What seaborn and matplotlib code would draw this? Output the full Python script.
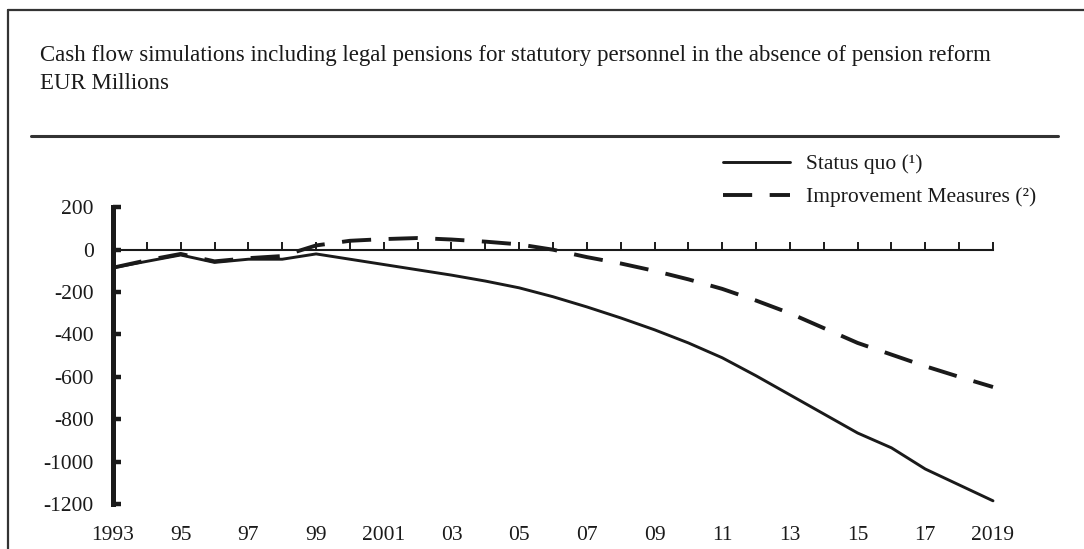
import pandas as pd
import seaborn as sns
import matplotlib.pyplot as plt
from matplotlib.lines import Line2D

# data (EUR millions)
years = list(range(1993, 2020))
status_quo = [-85, -55, -25, -60, -45, -45, -20, -45, -70, -95, -120, -148, -180,
              -222, -270, -322, -378, -440, -510, -595, -685, -775, -865, -935,
              -1035, -1110, -1185]
improvement = [-85, -50, -20, -55, -40, -30, 20, 42, 50, 55, 48, 38, 25,
               0, -35, -65, -100, -140, -185, -240, -300, -370, -440, -495,
               -550, -600, -648]
tick_years = list(range(1993, 2020, 2))
tick_labels = ["1993", "95", "97", "99", "2001", "03", "05", "07", "09",
               "11", "13", "15", "17", "2019"]
y_ticks = [200, 0, -200, -400, -600, -800, -1000, -1200]

title = ("Cash flow simulations including legal pensions for statutory "
         "personnel in the absence of pension reform")
subtitle = "EUR Millions"
label_sq = "Status quo (\u00b9)"
label_im = "Improvement Measures (\u00b2)"

df_sq = pd.DataFrame({"year": years, "value": status_quo})
df_im = pd.DataFrame({"year": years, "value": improvement})

sns.set_style("ticks")
plt.rcParams["font.family"] = ["Liberation Serif", "DejaVu Serif"]

ink = "#1a1a1a"
W, H = 1084, 549
fig = plt.figure(figsize=(W / 100, H / 100), dpi=100)
ax = fig.add_axes([113 / W, 1 - 504 / H, 880 / W, (504 - 207.3) / H])

sns.lineplot(data=df_sq, x="year", y="value", color=ink,
             linewidth=2.1, ax=ax, label=label_sq, clip_on=False)
sns.lineplot(data=df_im, x="year", y="value", color=ink,
             linewidth=2.8, ax=ax, label=label_im, clip_on=False)
ax.lines[1].set_dashes((7.5, 4.5))

ax.set_xlim(1993, 2019)
ax.set_ylim(-1200, 200)

# x axis sits on the zero line, ticks pointing up, labels at the bottom
ax.spines["top"].set_visible(False)
ax.spines["right"].set_visible(False)
ax.spines["bottom"].set_position(("data", 0))
ax.spines["bottom"].set_linewidth(1.5)
ax.spines["bottom"].set_color(ink)
ax.set_xticks(years)
ax.tick_params(axis="x", direction="in", length=6, width=1.4,
               color=ink, labelbottom=False)

ax.spines["left"].set_linewidth(3.6)
ax.spines["left"].set_color(ink)
ax.set_yticks(y_ticks)
ax.set_yticklabels([str(v) for v in y_ticks])
ax.tick_params(axis="y", direction="in", length=6, width=3.2,
               color=ink, labelsize=15.5, pad=14, labelcolor=ink)

sec = ax.secondary_xaxis("bottom")
sec.set_xticks(tick_years)
sec.set_xticklabels(tick_labels)
sec.spines["bottom"].set_visible(False)
sec.tick_params(length=0, pad=16, labelsize=15.5, labelcolor=ink)

ax.set_xlabel("")
ax.set_ylabel("")

ax.legend(loc="upper left", bbox_to_anchor=(723 / W, 1 - 154 / H),
          bbox_transform=fig.transFigure, frameon=False, fontsize=15.5,
          handlelength=3.1, handletextpad=0.75, labelspacing=0.6,
          borderpad=0, borderaxespad=0, labelcolor=ink)

# frame and header
fig.add_artist(Line2D([8 / W, 1], [1 - 9.5 / H, 1 - 9.5 / H],
                      transform=fig.transFigure, color="#333333", lw=1.6))
fig.add_artist(Line2D([8 / W, 8 / W], [0, 1 - 9.5 / H],
                      transform=fig.transFigure, color="#333333", lw=1.6))
fig.add_artist(Line2D([31 / W, 1058 / W], [1 - 136 / H, 1 - 136 / H],
                      transform=fig.transFigure, color="#333333", lw=2.2))

fig.text(40 / W, 1 - 55 / H, title, fontsize=16.5, va="center", ha="left",
         color=ink)
fig.text(40 / W, 1 - 84 / H, subtitle, fontsize=16.5, va="center", ha="left",
         color=ink)

fig.savefig("out.png", dpi=100, facecolor="white")
